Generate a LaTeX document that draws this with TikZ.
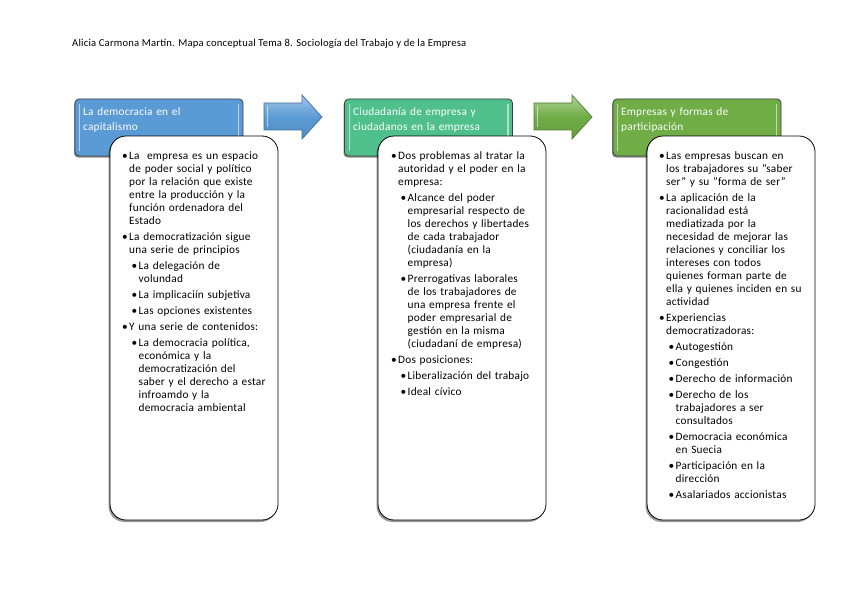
\documentclass[tikz,border=0pt]{standalone}
\usepackage{fontspec}
\setmainfont{Carlito}[LetterSpace=2]
\usetikzlibrary{shadows}
\definecolor{hblue}{HTML}{5B9BD5}
\definecolor{hteal}{HTML}{4FC08C}
\definecolor{hgreen}{HTML}{70AD47}
\definecolor{ablue}{HTML}{5B9BD5}
\definecolor{ablueline}{HTML}{41719C}
\definecolor{agreen}{HTML}{70AD47}
\definecolor{agreenline}{HTML}{507E32}
\definecolor{hborder}{HTML}{3F3F3F}
\newcommand\Ia[1]{\par\leftskip=0pt\hangindent=7pt\hangafter=1\noindent\makebox[7pt][l]{\textbullet}#1}
\newcommand\Ib[1]{\par\leftskip=9.5pt\hangindent=7pt\hangafter=1\noindent\makebox[7pt][l]{\textbullet}#1}
\tikzset{
  header/.style={draw=hborder, line width=0.8pt, rounded corners=4pt, minimum width=168pt, minimum height=57pt, inner sep=0pt,
     drop shadow={shadow xshift=-1pt, shadow yshift=-1.5pt, opacity=0.45, fill=black}},
  body/.style={draw=black, line width=0.8pt, fill=white, rounded corners=16pt, minimum width=168pt, minimum height=384pt, inner sep=0pt,
     drop shadow={shadow xshift=-1.5pt, shadow yshift=-2pt, opacity=0.4, fill=black}},
  htext/.style={anchor=north west, inner sep=0pt, text width=150pt, align=left, text=white,
     font=\fontsize{11.3}{15}\selectfont},
  btext/.style={anchor=north west, inner sep=0pt, text width=175pt, text=black,
     font=\fontsize{11.3}{13}\selectfont\setlength{\parskip}{3pt}},
  bevel/.style={white, opacity=0.55, line width=1.2pt},
  arrowb/.style={draw=ablueline, line width=0.7pt, top color=ablue!55!white, bottom color=ablue!90!black, middle color=ablue},
  arrowg/.style={draw=agreenline, line width=0.7pt, top color=agreen!55!white, bottom color=agreen!90!black, middle color=agreen},
}
\begin{document}
\begin{tikzpicture}[x=1pt,y=-1pt]
\useasboundingbox[fill=white] (0,0) rectangle (848,599);

\node[anchor=west, inner sep=0pt, font=\fontsize{10.6}{12}\selectfont] (title) at (72,44)
  {Alicia Carmona Martín. Mapa conceptual Tema 8. Sociología del Trabajo y de la Empresa};

% headers
\node[header, fill=hblue] (h1) at (159,127.5) {};
\node[header, fill=hteal] (h2) at (428.5,127.5) {};
\node[header, fill=hgreen] (h3) at (697,127.5) {};
\foreach \n in {h1,h2,h3}{
  \draw[bevel] ([xshift=5pt,yshift=-5pt]\n.north west) -- ([xshift=5pt,yshift=5pt]\n.south west);
  \draw[bevel] ([xshift=-5pt,yshift=-5pt]\n.north east) -- ([xshift=-5pt,yshift=5pt]\n.south east);
}
\node[htext] (t1) at (83,107) {La democracia en el\\capitalismo};
\node[htext] (t2) at (353,107) {Ciudadanía de empresa y\\ciudadanos en la empresa};
\node[htext] (t3) at (621,107) {Empresas y formas de\\participación};

% arrows
\draw[arrowb] (264,103) -- (302,103) -- (302,95) -- (322,117) -- (302,139) -- (302,130) -- (264,130) -- cycle;
\draw[bevel] (267.5,106) -- (267.5,127);
\draw[arrowg] (534,103) -- (572,103) -- (572,95) -- (592,117) -- (572,139) -- (572,130) -- (534,130) -- cycle;
\draw[bevel] (537.5,106) -- (537.5,127);

% bodies
\node[body] (b1) at (194,328) {};
\node[body] (b2) at (462,328) {};
\node[body] (b3) at (731,328) {};

\node[btext] (c1) at (122,143.5) {%
\Ia{La~~empresa es un espacio\newline de poder social y político\newline por la relación que existe\newline entre la producción y la\newline función ordenadora del\newline Estado}
\Ia{La democratización sigue\newline una serie de principios}
\Ib{La delegación de\newline volundad}
\Ib{La implicaciín subjetiva}
\Ib{Las opciones existentes}
\Ia{Y una serie de contenidos:}
\Ib{La democracia política,\newline económica y la\newline democratización del\newline saber y el derecho a estar\newline infroamdo y la\newline democracia ambiental}\par};

\node[btext] (c2) at (391,143.5) {%
\Ia{Dos problemas al tratar la\newline autoridad y el poder en la\newline empresa:}
\Ib{Alcance del poder\newline empresarial respecto de\newline los derechos y libertades\newline de cada trabajador\newline (ciudadanía en la\newline empresa)}
\Ib{Prerrogativas laborales\newline de los trabajadores de\newline una empresa frente el\newline poder empresarial de\newline gestión en la misma\newline (ciudadaní de empresa)}
\Ia{Dos posiciones:}
\Ib{Liberalización del trabajo}
\Ib{Ideal cívico}\par};

\node[btext] (c3) at (659,143.5) {%
\Ia{Las empresas buscan en\newline los trabajadores su "saber\newline ser" y su "forma de ser"}
\Ia{La aplicación de la\newline racionalidad está\newline mediatizada por la\newline necesidad de mejorar las\newline relaciones y conciliar los\newline intereses con todos\newline quienes forman parte de\newline ella y quienes inciden en su\newline actividad}
\Ia{Experiencias\newline democratizadoras:}
\Ib{Autogestión}
\Ib{Congestión}
\Ib{Derecho de información}
\Ib{Derecho de los\newline trabajadores a ser\newline consultados}
\Ib{Democracia económica\newline en Suecia}
\Ib{Participación en la\newline dirección}
\Ib{Asalariados accionistas}\par};
\end{tikzpicture}
\end{document}
